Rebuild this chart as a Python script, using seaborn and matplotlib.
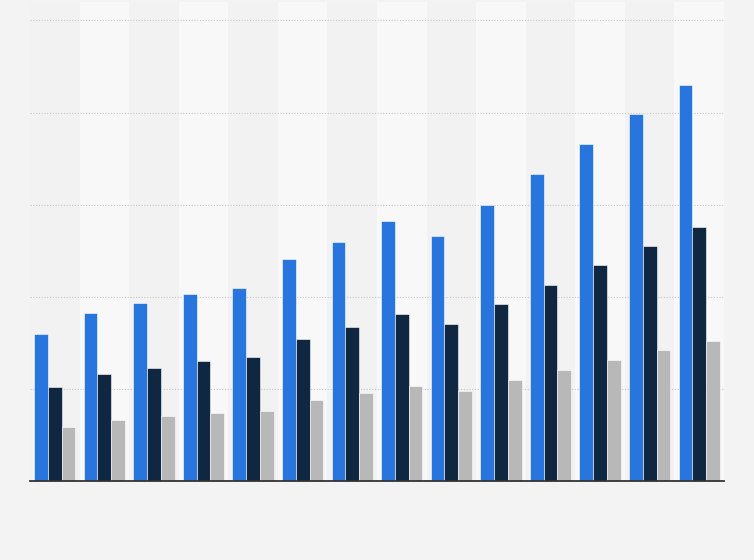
import numpy as np
import pandas as pd
import matplotlib
matplotlib.use("Agg")
import matplotlib.pyplot as plt
import seaborn as sns

# values (no axis labels are shown in the reference)
groups = [str(i) for i in range(1, 15)]
series_a = [1.60, 1.82, 1.93, 2.03, 2.09, 2.41, 2.60, 2.82, 2.66, 3.00, 3.33, 3.655, 3.98, 4.295]
series_b = [1.02, 1.16, 1.23, 1.30, 1.345, 1.54, 1.67, 1.81, 1.70, 1.92, 2.13, 2.34, 2.55, 2.755]
series_c = [0.586, 0.66, 0.705, 0.74, 0.76, 0.88, 0.955, 1.03, 0.976, 1.095, 1.20, 1.31, 1.42, 1.52]
series_names = ["A", "B", "C"]
palette = ["#2876dd", "#0f2740", "#b8b8b8"]

df = pd.DataFrame({
    "group": groups * 3,
    "series": np.repeat(series_names, len(groups)),
    "value": series_a + series_b + series_c,
})

sns.set_style("white")
fig = plt.figure(figsize=(7.54, 5.6), dpi=100, facecolor="#f3f3f3")
ax = fig.add_axes([30 / 754, 79 / 560, 694 / 754, 479 / 560])
ax.set_facecolor("#f2f2f2")

# alternating column bands
for i in range(len(groups)):
    if i % 2 == 1:
        ax.axvspan(i - 0.5, i + 0.5, color="#f8f8f8", zorder=0, lw=0)

sns.barplot(data=df, x="group", y="value", hue="series", palette=palette,
            saturation=1, width=0.83, edgecolor="white", linewidth=0.4,
            ax=ax, zorder=3, legend=False)

ax.set_xlim(-0.5, len(groups) - 0.5)
ax.set_ylim(0, 5.2)
ax.set_yticks([1, 2, 3, 4, 5])
ax.yaxis.grid(True, color="#c8c8c8", linestyle=(0, (1, 1.5)), linewidth=0.8, zorder=1)
ax.set_axisbelow(True)
ax.tick_params(left=False, bottom=False, labelleft=False, labelbottom=False)
ax.set_xlabel("")
ax.set_ylabel("")
for s in ["top", "right", "left"]:
    ax.spines[s].set_visible(False)
ax.spines["bottom"].set_color("#333333")
ax.spines["bottom"].set_linewidth(1.3)
ax.spines["bottom"].set_zorder(5)

fig.savefig("out.png", dpi=100, facecolor=fig.get_facecolor())
